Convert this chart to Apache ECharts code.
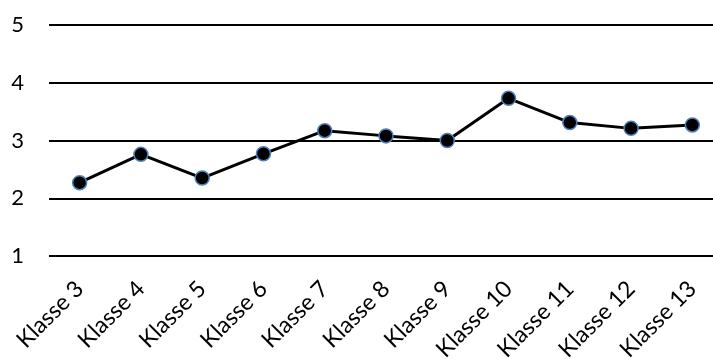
<!DOCTYPE html>
<html>
<head>
<meta charset="utf-8">
<script src="https://cdn.jsdelivr.net/npm/echarts@6/dist/echarts.min.js"></script>
<style>
  html, body { margin: 0; padding: 0; background: #fff; }
  #chart { width: 713px; height: 359px; }
</style>
</head>
<body>
<div id="chart"></div>
<script>
const categories = ['Klasse 3', 'Klasse 4', 'Klasse 5', 'Klasse 6', 'Klasse 7', 'Klasse 8',
  'Klasse 9', 'Klasse 10', 'Klasse 11', 'Klasse 12', 'Klasse 13']
const values = [2.27, 2.76, 2.35, 2.77, 3.17, 3.08, 3.0, 3.73, 3.31, 3.21, 3.27]
const yTicks = [1, 2, 3, 4, 5]

const chart = echarts.init(document.getElementById('chart'))
const font = 'Lato, sans-serif'

chart.setOption({
  animation: false,
  grid: {
    left: 49,
    right: -10,
    top: 25,
    bottom: 103,
    // keep the plot box fixed even when the rotated labels run close to the edge
    outerBoundsMode: 'none',
  },
  xAxis: {
    type: 'category',
    data: categories,
    boundaryGap: true,
    axisLine: { show: false },
    axisTick: { show: false },
    axisLabel: {
      rotate: 45,
      margin: 29,
      interval: 0,
      color: '#000',
      fontSize: 23,
      fontFamily: font,
    },
  },
  yAxis: {
    type: 'value',
    min: yTicks[0],
    max: yTicks[yTicks.length - 1],
    interval: 1,
    axisLine: { show: false },
    axisTick: { show: false },
    axisLabel: {
      margin: 25,
      color: '#000',
      fontSize: 22,
      fontFamily: font,
    },
    splitLine: { lineStyle: { color: '#000', width: 2 } },
  },
  series: [
    {
      type: 'line',
      data: values,
      symbol: 'circle',
      symbolSize: 14,
      lineStyle: { color: '#000', width: 3 },
      itemStyle: { color: '#000', borderColor: '#4f81bd', borderWidth: 1.5 },
    },
  ],
})
</script>
</body>
</html>
